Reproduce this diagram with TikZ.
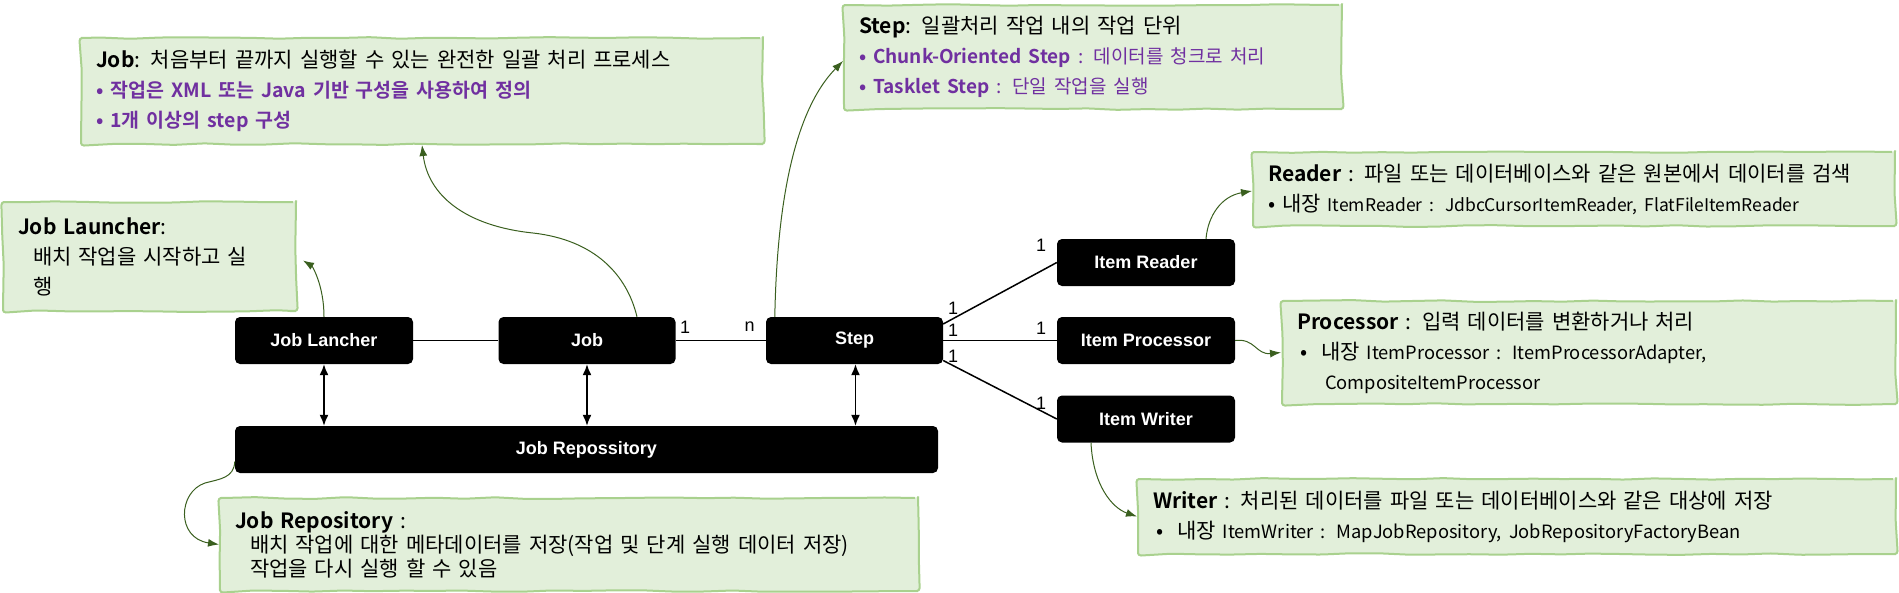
\documentclass[tikz,border=0pt]{standalone}
\usepackage{fontspec}
\setmainfont{Noto Sans CJK KR}[BoldFont={Noto Sans CJK KR Bold}]
\newfontfamily\arialfont{Liberation Sans}
\usetikzlibrary{arrows.meta,decorations.pathmorphing}
\definecolor{notefill}{HTML}{E2EFDA}
\definecolor{noteline}{HTML}{A9D18E}
\definecolor{notearrow}{HTML}{3A5F1F}
\definecolor{jobpurple}{HTML}{7030A0}
\tikzstyle{block}=[rectangle,rounded corners=5pt,fill=black,text=white,font=\arialfont\bfseries\fontsize{18}{20}\selectfont,minimum height=47,inner sep=0pt]
\tikzstyle{note}=[rectangle,draw=noteline,fill=notefill,line width=2pt,anchor=north west,align=left,inner xsep=15pt,inner ysep=0pt,font=\fontsize{21}{30}\selectfont,execute at begin node={\lineskiplimit=-50pt\relax},decorate,decoration={random steps,segment length=30pt,amplitude=0.9pt},rounded corners=3pt]
\tikzstyle{post}=[-{Latex[length=11pt,width=8pt]},draw=notearrow,line width=1pt]
\tikzstyle{link}=[draw,line width=1.5pt]
\tikzstyle{dbl}=[{Latex[length=11pt,width=9pt]}-{Latex[length=11pt,width=9pt]},line width=1.5pt]
\tikzstyle{lbl}=[font=\arialfont\fontsize{18}{20}\selectfont,inner sep=0pt]

\begin{document}
\begin{tikzpicture}[x=1pt,y=-1pt]
\pgfmathsetseed{3}
\useasboundingbox (0,0) rectangle (1899,592);

\node[note,text width=652pt,minimum height=106] (jobnote) at (80,37)
  {{\bfseries Job}: 처음부터 끝까지 실행할 수 있는 완전한 일괄 처리 프로세스\\
   {\color{jobpurple}\bfseries\fontsize{19.5}{30}\selectfont • 작업은 XML 또는 Java 기반 구성을 사용하여 정의}\\
   {\color{jobpurple}\bfseries\fontsize{19.5}{30}\selectfont • 1개 이상의 step 구성}};
\node[note,text width=468pt,minimum height=104] (stepnote) at (843,4)
  {{\bfseries Step}: 일괄처리 작업 내의 작업 단위\\
   {\color{jobpurple}\fontsize{19}{30}\selectfont{\bfseries • Chunk-Oriented Step} : 데이터를 청크로 처리}\\
   {\color{jobpurple}\fontsize{19}{30}\selectfont{\bfseries • Tasklet Step} : 단일 작업을 실행}};
\node[note,text width=263pt,minimum height=109] (launchnote) at (2,201)
  {{\bfseries Job Launcher}:\\
   \hspace*{15pt}배치 작업을 시작하고 실\\
   \hspace*{15pt}행};
\node[note,text width=668pt,minimum height=93,font=\fontsize{21}{24}\selectfont] (reponote) at (219,497)
  {{\bfseries Job Repository} :\\
   \hspace*{15pt}배치 작업에 대한 메타데이터를 저장(작업 및 단계 실행 데이터 저장)\\
   \hspace*{15pt}작업을 다시 실행 할 수 있음};
\node[note,text width=612pt,minimum height=74] (readernote) at (1252,151)
  {{\bfseries Reader} : 파일 또는 데이터베이스와 같은 원본에서 데이터를 검색\\
   • 내장 {\fontsize{17.5}{30}\selectfont ItemReader : JdbcCursorItemReader, FlatFileItemReader}};
\node[note,text width=584pt,minimum height=103] (procnote) at (1281,300)
  {{\bfseries Processor} : 입력 데이터를 변환하거나 처리\\
   \hspace*{3pt}•\hspace{14pt}내장 {\fontsize{18.3}{30}\selectfont ItemProcessor : ItemProcessorAdapter,}\\
   \hspace*{28pt}{\fontsize{18.3}{30}\selectfont CompositeItemProcessor}};
\node[note,text width=728pt,minimum height=75] (writernote) at (1137,478)
  {{\bfseries Writer} : 처리된 데이터를 파일 또는 데이터베이스와 같은 대상에 저장\\
   \hspace*{3pt}•\hspace{14pt}내장 {\fontsize{18.3}{30}\selectfont ItemWriter : MapJobRepository, JobRepositoryFactoryBean}};

\node[block,minimum width=178] (lancher)   at (324,340.5)  {Job Lancher};
\node[block,minimum width=177] (job)       at (587,340.5)  {Job};
\node[block,minimum width=177] (step)      at (854.5,340.5) {Step};
\node[block,minimum width=703] (repo)      at (586.5,449.5) {Job Repossitory};
\node[block,minimum width=178] (reader)    at (1146,262.5) {Item Reader};
\node[block,minimum width=178] (processor) at (1146,340.5) {Item Processor};
\node[block,minimum width=178] (writer)    at (1146,419)   {Item Writer};

\draw[link] (lancher) -- (job);
\draw[link] (job) -- (step);
\draw[link] ([yshift=16.5pt]step.east) -- (reader.west);
\draw[link] (step.east) -- (processor.west);
\draw[link] ([yshift=-20pt]step.east) -- (writer.west);

\draw[dbl] (lancher.south) -- (lancher.south |- repo.north);
\draw[dbl] (job.south) -- (job.south |- repo.north);
\draw[dbl] ([xshift=1pt]step.south) -- ([xshift=1pt]step.south |- repo.north);

\node[lbl] (jobone) at (685,327)   {1};
\node[lbl] (stepn)  at (749.5,327) {n};
\node[lbl] (rdone)  at (953,308)   {1};
\node[lbl] (prone)  at (953,330)   {1};
\node[lbl] (wrone)  at (953,356)   {1};
\node[lbl] (rdtwo)  at (1041,245)  {1};
\node[lbl] (prtwo)  at (1041,328)  {1};
\node[lbl] (wrtwo)  at (1041,403)  {1};

\draw[post] (lancher.north) .. controls (324,285) and (312,266) .. ([xshift=6pt,yshift=-4pt]launchnote.east);
\draw[post] ([xshift=50pt]job.north) .. controls (627,275) and (595,240) .. (533,233)
  .. controls (465,226) and (428,195) .. (jobnote.south);
\draw[post] ([xshift=9pt]step.north west) .. controls (777,200) and (795,110) .. ([yshift=-4pt]stepnote.west);
\draw[post] ([xshift=60pt]reader.north) .. controls (1208,215) and (1222,196) .. ([yshift=-2pt]readernote.west);
\draw[post] (processor.east) .. controls (1255,338) and (1256,355) .. (procnote.west);
\draw[post] ([xshift=-55pt]writer.south) .. controls (1093,485) and (1112,508) .. (writernote.west);
\draw[post] ([yshift=-12pt]repo.west) .. controls (234,478) and (220,479) .. (205,483)
  .. controls (178,492) and (176,538) .. (reponote.west);

\end{tikzpicture}
\end{document}
